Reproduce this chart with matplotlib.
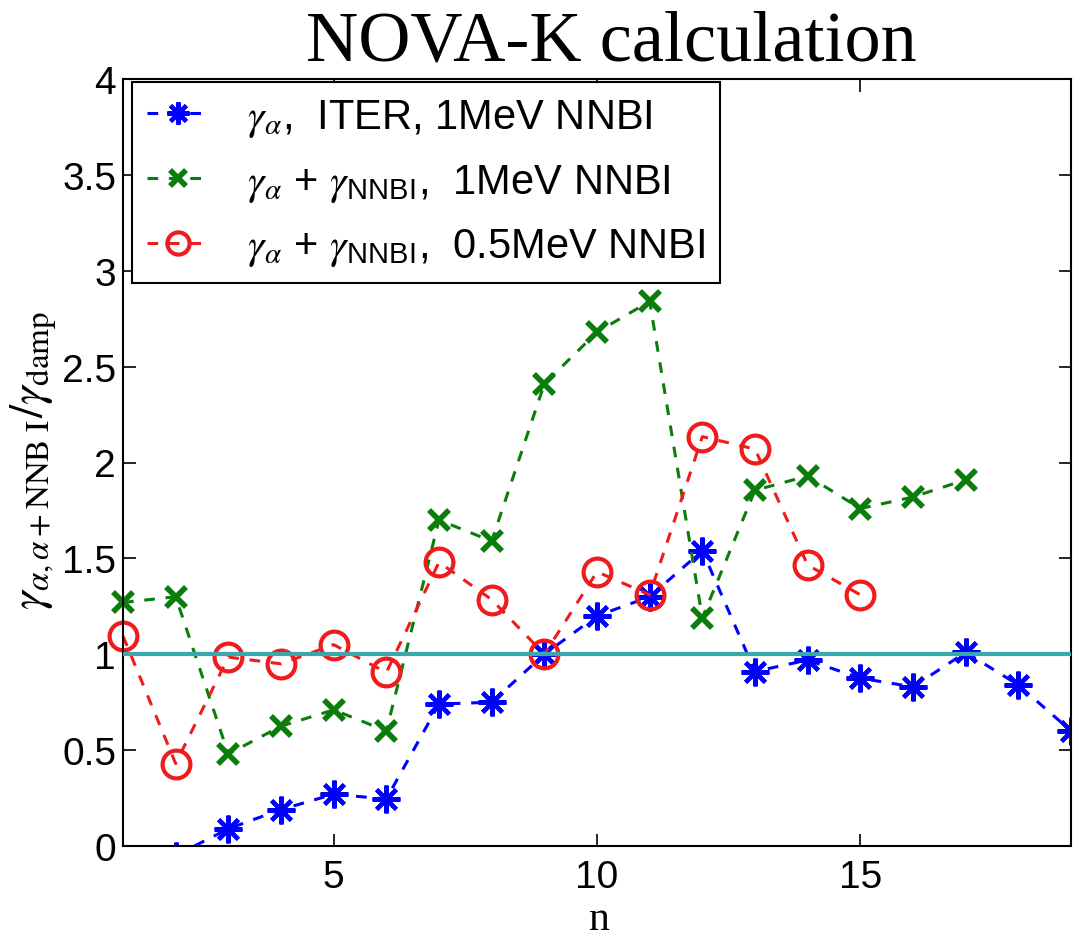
import matplotlib
matplotlib.use('Agg')
import matplotlib.pyplot as plt
from matplotlib.ticker import FuncFormatter


# Growth rates normalised to the damping rate, per toroidal mode number n
N_ALPHA = [2, 3, 4, 5, 6, 7, 8, 9, 10, 11, 12, 13, 14, 15, 16, 17, 18, 19]
GAMMA_ALPHA = [-0.05, 0.09, 0.19, 0.27, 0.245, 0.74, 0.75, 1.0, 1.20, 1.30,
               1.54, 0.91, 0.97, 0.875, 0.83, 1.01, 0.84, 0.60]

N_NNBI_1MEV = [1, 2, 3, 4, 5, 6, 7, 8, 9, 10, 11, 12, 13, 14, 15, 16, 17]
GAMMA_NNBI_1MEV = [1.27, 1.30, 0.48, 0.625, 0.71, 0.60, 1.70, 1.59, 2.41,
                   2.68, 2.84, 1.19, 1.855, 1.93, 1.76, 1.82, 1.91]

N_NNBI_05MEV = [1, 2, 3, 4, 5, 6, 7, 8, 9, 10, 11, 12, 13, 14, 15]
GAMMA_NNBI_05MEV = [1.095, 0.43, 0.985, 0.95, 1.05, 0.905, 1.48, 1.285, 1.0,
                    1.43, 1.31, 2.135, 2.07, 1.465, 1.31]

LABELS = [
  r'$\gamma_\alpha$,  ITER, 1MeV NNBI',
  r'$\gamma_\alpha$ + $\gamma_{\mathsf{NNBI}}$,  1MeV NNBI',
  r'$\gamma_\alpha$ + $\gamma_{\mathsf{NNBI}}$,  0.5MeV NNBI',
]

X_TICKS = [5, 10, 15]
Y_TICKS = [0, 0.5, 1, 1.5, 2, 2.5, 3, 3.5, 4]

W, H = 1073, 937


def main() -> None:
  plt.rcParams['font.family'] = ['Liberation Sans', 'DejaVu Sans']
  # Times-like maths, with a sans face available through \mathsf
  plt.rcParams['mathtext.fontset'] = 'custom'
  plt.rcParams['mathtext.rm'] = 'STIXGeneral'
  plt.rcParams['mathtext.it'] = 'STIXGeneral:italic'
  plt.rcParams['mathtext.bf'] = 'STIXGeneral:bold'
  plt.rcParams['mathtext.sf'] = 'Liberation Sans'
  plt.rcParams['mathtext.fallback'] = 'stix'

  fig = plt.figure(figsize=(W / 100, H / 100), dpi=100)
  ax = fig.add_axes([123 / W, 1 - 847 / H, (1071 - 123) / W, (847 - 80) / H])

  dash = (3.5, 3.5)
  # alpha-only curve is clipped at the axes (first point sits below zero)
  ax.plot(N_ALPHA, GAMMA_ALPHA, color='#0000ff', lw=2.2, dashes=dash,
          marker=(8, 2, 0), ms=20, mew=3, label=LABELS[0], clip_on=True)
  ax.plot(N_NNBI_1MEV, GAMMA_NNBI_1MEV, color='#0a7d0a', lw=2.2, dashes=dash,
          marker='x', ms=15, mew=4, label=LABELS[1], clip_on=False)
  ax.plot(N_NNBI_05MEV, GAMMA_NNBI_05MEV, color='#ee1c1c', lw=2.2, dashes=dash,
          marker='o', ms=20, mew=3, mfc='none', label=LABELS[2], clip_on=False)

  # marginal stability level
  ax.axhline(1.0, color='#3aa7ae', lw=3, zorder=5)

  ax.set_xlim(1, 19)
  ax.set_ylim(0, 4)
  ax.set_xticks(X_TICKS)
  ax.set_yticks(Y_TICKS)
  ax.yaxis.set_major_formatter(FuncFormatter(lambda v, p: '%g' % v))
  ax.tick_params(direction='in', length=9, width=1.2, top=True, right=True,
                 labelsize=28)
  ax.tick_params(axis='x', pad=9)
  ax.tick_params(axis='y', pad=5)
  for s in ax.spines.values():
    s.set_linewidth(1.5)

  leg = ax.legend(loc='upper left', bbox_to_anchor=(0.0095, 0.996),
                  borderaxespad=0, fancybox=False, edgecolor='black',
                  framealpha=1, fontsize=30, handlelength=1.5,
                  handletextpad=0.9, labelspacing=0.55, borderpad=0.35,
                  markerscale=0.8)
  leg.get_frame().set_linewidth(1.5)

  serif = ['Liberation Serif', 'DejaVu Serif']
  fig.text(0.57, 1 - 60 / H, 'NOVA-K calculation', family=serif,
           fontsize=52, ha='center', va='baseline')
  fig.text(599 / W, 1 - 930 / H, 'n', family=serif, fontsize=30,
           ha='center', va='baseline')
  fig.text(34 / W, 1 - 461 / H,
           r'$\gamma_{\alpha,\alpha+\mathrm{NNB\ I}}/\gamma_{\mathrm{damp}}$',
           fontsize=34, rotation=90, ha='center', va='center')

  fig.savefig('out.png', dpi=100)


if __name__ == "__main__":
  main()
